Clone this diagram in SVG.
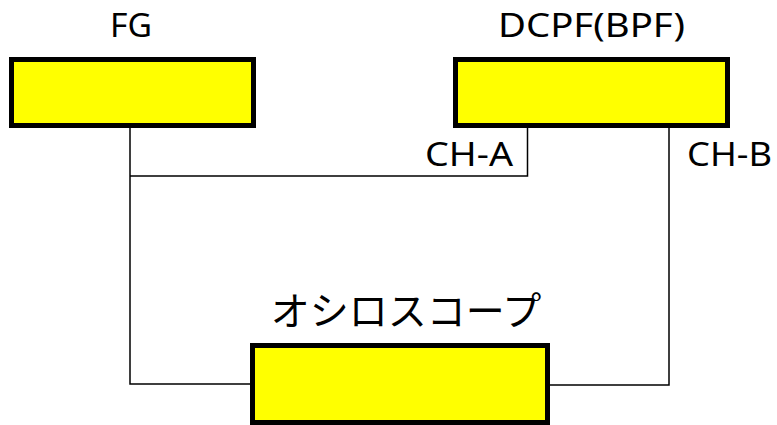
<svg xmlns="http://www.w3.org/2000/svg" width="777" height="425" viewBox="0 0 777 425">
<style>
.box{fill:#ffff00;stroke:#000;stroke-width:5}
.wire{fill:none;stroke:#000;stroke-width:1.5}
.lbl{font-family:"Noto Sans","Liberation Sans",sans-serif;font-size:33px;fill:#000}
.jp{font-family:"Noto Sans CJK JP",sans-serif;font-size:39px;fill:#000}
</style>
<rect width="777" height="425" fill="#fff"/>
<g id="connectors">
<polyline class="wire" points="130,126 130,384 252,384"/>
<polyline class="wire" points="130,176 527.5,176 527.5,126"/>
<polyline class="wire" points="669,126 669,385 548,385"/>
</g>
<g id="fg">
<rect class="box" x="11.5" y="59.5" width="242" height="66"/>
<text class="lbl" x="110" y="37" textLength="42" lengthAdjust="spacingAndGlyphs">FG</text>
</g>
<g id="dcpf">
<rect class="box" x="455.5" y="59.5" width="272" height="66"/>
<text class="lbl" x="498" y="37" textLength="187" lengthAdjust="spacingAndGlyphs">DCPF(BPF)</text>
<text class="lbl" x="425" y="166" textLength="88" lengthAdjust="spacingAndGlyphs">CH-A</text>
<text class="lbl" x="687" y="166" textLength="85" lengthAdjust="spacingAndGlyphs">CH-B</text>
</g>
<g id="oscilloscope">
<rect class="box" x="252.5" y="345.5" width="295" height="77"/>
<text class="jp" x="406" y="325" text-anchor="middle">オシロスコープ</text>
</g>
</svg>
